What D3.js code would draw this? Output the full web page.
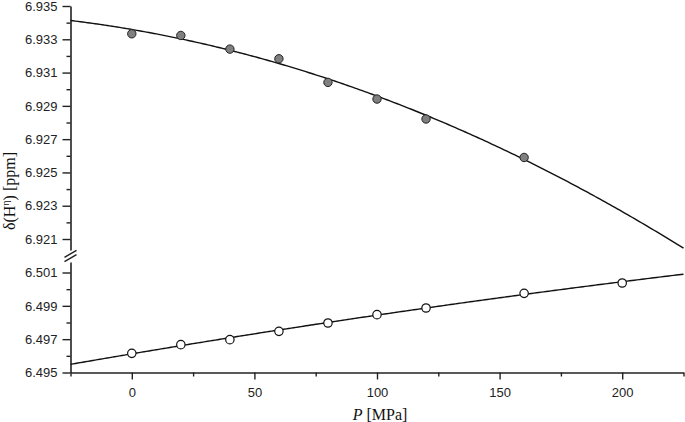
<!DOCTYPE html>
<html>
<head>
<meta charset="utf-8">
<script src="https://cdn.jsdelivr.net/npm/d3@7"></script>
<style>
  body { margin: 0; background: #fff; }
  svg { display: block; }
</style>
</head>
<body>
<div id="chart"></div>
<script>
// pressure [MPa]
var pressureTop = [0, 20, 40, 60, 80, 100, 120, 160];
var shiftTop = [6.93333, 6.93323, 6.93241, 6.93183, 6.93041, 6.92941, 6.92821, 6.92590];
var pressureBottom = [0, 20, 40, 60, 80, 100, 120, 160, 200];
var shiftBottom = [6.49615, 6.49667, 6.49697, 6.49747, 6.49797, 6.49847, 6.49887, 6.49975, 6.50037];

// quadratic fits a + b*P + c*P^2 as drawn
var fitTop = [6.93359, -2.528e-5, -1.472e-7];
var fitBottom = [6.49612, 2.48e-5, -1.582e-8];

var xMajor = [0, 50, 100, 150, 200];
var xMinor = [-25, 25, 75, 125, 175, 225];
var yTopMajor = [6.921, 6.923, 6.925, 6.927, 6.929, 6.931, 6.933, 6.935];
var yTopMinor = [6.922, 6.924, 6.926, 6.928, 6.930, 6.932, 6.934];
var yBotMajor = [6.495, 6.497, 6.499, 6.501];
var yBotMinor = [6.496, 6.498, 6.500];

var width = 685, height = 422;
var axisColor = "#222";
var sans = "'Liberation Sans', Arial, Helvetica, sans-serif";
var serif = "'Liberation Serif', 'Times New Roman', serif";

var svg = d3.select("#chart").append("svg")
    .attr("width", width)
    .attr("height", height);

var x = d3.scaleLinear().domain([-25, 225]).range([70.5, 683.5]);
var yTop = d3.scaleLinear().domain([6.92034, 6.935]).range([250, 6]);
var yBot = d3.scaleLinear().domain([6.495, 6.50163]).range([372.5, 262]);

function styleAxis(g) {
    g.attr("font-family", sans).attr("font-size", 13);
    g.selectAll(".tick text").attr("fill", "#222");
    g.selectAll(".domain").attr("stroke", axisColor).attr("stroke-width", 1.6);
    g.selectAll(".tick line").attr("stroke", axisColor).attr("stroke-width", 1.4);
}

// x axis
var gx = svg.append("g").attr("transform", "translate(0,372.5)");
gx.call(d3.axisBottom(x).tickValues(xMajor).tickSize(7).tickSizeOuter(0).tickPadding(8).tickFormat(d3.format("d")));
gx.append("g").call(d3.axisBottom(x).tickValues(xMinor).tickSize(4).tickFormat("")).select(".domain").remove();
styleAxis(gx);

// y axes (broken)
function yAxis(scale, major, minor) {
    var g = svg.append("g").attr("transform", "translate(70.5,0)");
    g.call(d3.axisLeft(scale).tickValues(major).tickSize(8).tickSizeOuter(0).tickPadding(5).tickFormat(d3.format(".3f")));
    g.append("g").call(d3.axisLeft(scale).tickValues(minor).tickSize(4).tickFormat("")).select(".domain").remove();
    styleAxis(g);
}
yAxis(yTop, yTopMajor, yTopMinor);
yAxis(yBot, yBotMajor, yBotMinor);

// break marks
var brk = svg.append("g").attr("transform", "translate(70.5,256)");
brk.append("rect").attr("x", -7).attr("y", -3).attr("width", 14).attr("height", 6).attr("fill", "#fff");
[-2.2, 2.2].forEach(function(dy) {
    brk.append("line")
        .attr("x1", -6).attr("y1", dy + 3.5)
        .attr("x2", 6).attr("y2", dy - 3.5)
        .attr("stroke", axisColor).attr("stroke-width", 1.4);
});

// fit curves
var pGrid = d3.range(-25, 225.01, 1);
function fitLine(coef, scale) {
    return d3.line()
        .x(function(p) { return x(p); })
        .y(function(p) { return scale(coef[0] + coef[1] * p + coef[2] * p * p); })(pGrid);
}
svg.append("path").attr("d", fitLine(fitTop, yTop))
    .attr("fill", "none").attr("stroke", "#111").attr("stroke-width", 1.4);
svg.append("path").attr("d", fitLine(fitBottom, yBot))
    .attr("fill", "none").attr("stroke", "#111").attr("stroke-width", 1.4);

// points
svg.append("g").selectAll("circle").data(pressureTop).enter().append("circle")
    .attr("cx", function(d) { return x(d); })
    .attr("cy", function(d, i) { return yTop(shiftTop[i]); })
    .attr("r", 4.2)
    .attr("fill", "#7f7f7f").attr("stroke", "#222").attr("stroke-width", 1);

svg.append("g").selectAll("circle").data(pressureBottom).enter().append("circle")
    .attr("cx", function(d) { return x(d); })
    .attr("cy", function(d, i) { return yBot(shiftBottom[i]); })
    .attr("r", 4.2)
    .attr("fill", "#fff").attr("stroke", "#111").attr("stroke-width", 1.2);

// axis titles
svg.append("text")
    .attr("x", 380).attr("y", 420)
    .attr("text-anchor", "middle")
    .attr("font-family", serif)
    .attr("font-size", 16).attr("fill", "#111")
    .html('<tspan font-style="italic">P</tspan> [MPa]');

var yl = svg.append("text")
    .attr("transform", "translate(15,191) rotate(-90)")
    .attr("text-anchor", "middle")
    .attr("font-family", serif)
    .attr("font-size", 16).attr("fill", "#111");
yl.append("tspan").text("δ(H");
yl.append("tspan").attr("dy", -6).attr("font-size", 10).text("η");
yl.append("tspan").attr("dy", 6).text(") [ppm]");
</script>
</body>
</html>
